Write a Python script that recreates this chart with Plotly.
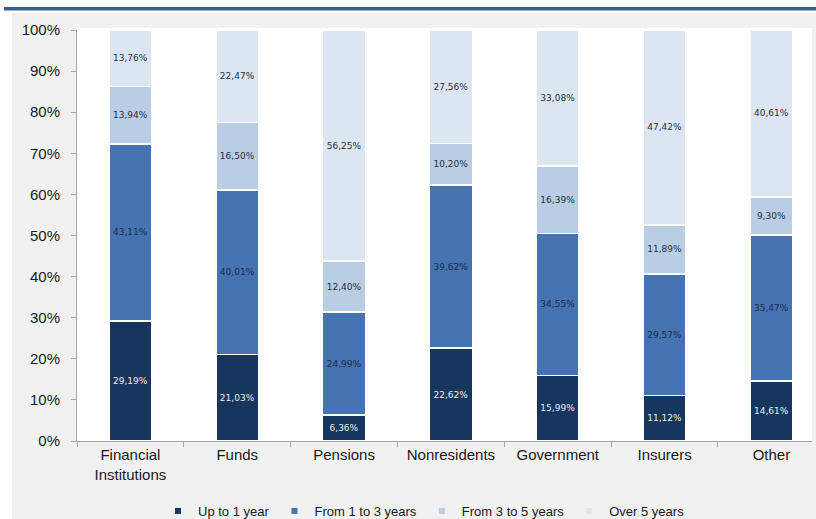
import plotly.graph_objects as go

categories = ["Financial<br>Institutions", "Funds", "Pensions", "Nonresidents",
              "Government", "Insurers", "Other"]
up_to_1 = [29.19, 21.03, 6.36, 22.62, 15.99, 11.12, 14.61]
from_1_to_3 = [43.11, 40.01, 24.99, 39.62, 34.55, 29.57, 35.47]
from_3_to_5 = [13.94, 16.50, 12.40, 10.20, 16.39, 11.89, 9.30]
over_5 = [13.76, 22.47, 56.25, 27.56, 33.08, 47.42, 40.61]
series_names = ["Up to 1 year", "From 1 to 3 years", "From 3 to 5 years", "Over 5 years"]
series_values = [up_to_1, from_1_to_3, from_3_to_5, over_5]
colors = ["#17365d", "#4673b1", "#b9cde5", "#dce6f2"]
text_colors = ["#e8ecf2", "#1c2c4c", "#2a2f3a", "#2a2f3a"]
y_ticks = [0, 10, 20, 30, 40, 50, 60, 70, 80, 90, 100]
y_labels = [f"{v}%" for v in y_ticks]

W, H = 816, 519
L, R, T, B = 77, 816 - 812, 30, 519 - 441
pw, ph = W - L - R, H - T - B


def px2x(px):
    return (px - L) / pw


def py2y(py):
    return (H - B - py) / ph


fig = go.Figure()
for name, vals, col, tcol in zip(series_names, series_values, colors, text_colors):
    fig.add_trace(go.Bar(
        x=categories, y=vals, name=name, showlegend=False,
        marker=dict(color=col, line=dict(color="white", width=1.5)),
        text=[f"{v:.2f}%".replace(".", ",") for v in vals],
        textposition="inside", insidetextanchor="middle", textangle=0,
        textfont=dict(family="DejaVu Sans", size=9, color=tcol),
        width=0.4, hoverinfo="skip",
    ))
for name, col in zip(series_names, colors):
    fig.add_trace(go.Scatter(
        x=[None], y=[None], mode="markers", name=name,
        marker=dict(symbol="square", size=6, color=col),
    ))

shapes = [
    dict(type="rect", xref="paper", yref="paper",
         x0=px2x(12), x1=px2x(816), y0=py2y(519), y1=py2y(13),
         fillcolor="#f1f1f1", line=dict(width=0), layer="below"),
    dict(type="rect", xref="paper", yref="paper",
         x0=0, x1=1, y0=0, y1=py2y(28),
         fillcolor="white", line=dict(width=0), layer="below"),
    dict(type="rect", xref="paper", yref="paper",
         x0=px2x(4), x1=px2x(816), y0=py2y(10.5), y1=py2y(7),
         fillcolor="#2f6098", line=dict(width=0), layer="below"),
]

fig.update_layout(
    width=W, height=H,
    margin=dict(l=L, r=R, t=T, b=B, autoexpand=False),
    barmode="stack",
    paper_bgcolor="white", plot_bgcolor="rgba(0,0,0,0)",
    shapes=shapes,
    font=dict(family="Liberation Sans", color="#1a1a1a"),
    uniformtext=dict(minsize=9, mode="show"),
    xaxis=dict(
        range=[-0.5, 6.38], showgrid=False, showline=True, linecolor="#a6a6a6",
        linewidth=1, ticks="outside", tickson="boundaries", ticklen=5,
        tickcolor="#a6a6a6", tickfont=dict(size=15, color="#1a1a1a"),
        automargin=False,
    ),
    yaxis=dict(
        range=[0, 100], tickvals=y_ticks, ticktext=y_labels, showgrid=False,
        showline=True, linecolor="#a6a6a6", linewidth=1, ticks="outside",
        ticklen=5, tickcolor="#a6a6a6", ticklabelstandoff=8,
        tickfont=dict(size=15, color="#1a1a1a"), zeroline=False,
        automargin=False,
    ),
    legend=dict(
        orientation="h", x=px2x(424), xanchor="center", y=py2y(511),
        yanchor="middle", font=dict(size=13, color="#1a1a1a"),
        bgcolor="rgba(0,0,0,0)", itemwidth=30, traceorder="normal",
    ),
)

fig.write_html("out.html")
